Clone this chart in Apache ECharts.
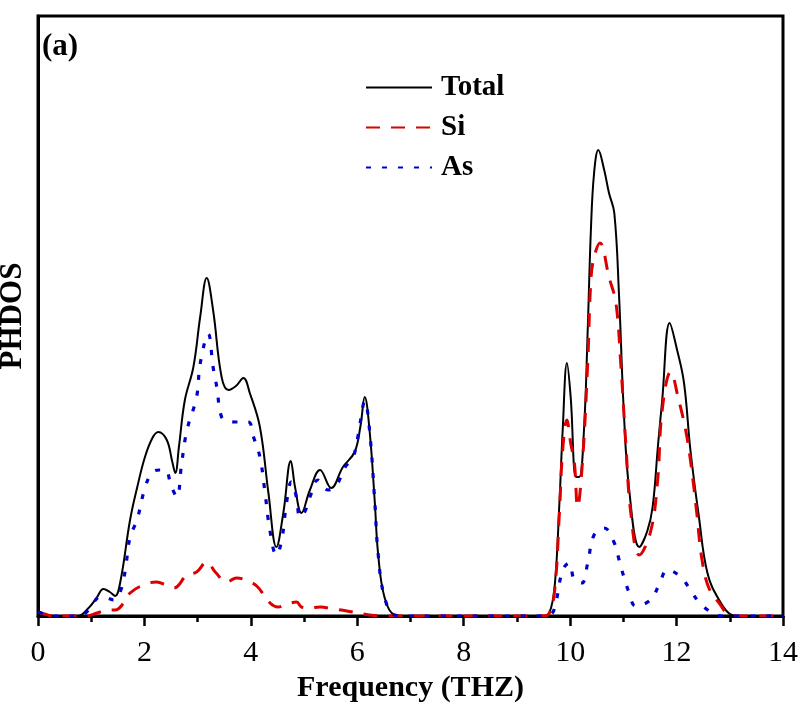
<!DOCTYPE html>
<html>
<head>
<meta charset="utf-8">
<script src="https://cdn.jsdelivr.net/npm/echarts@6/dist/echarts.min.js"></script>
<style>
html,body{margin:0;padding:0;background:#fff;}
#chart{width:808px;height:708px;}
</style>
</head>
<body>
<div id="chart"></div>
<script>
const xTicks = [0, 2, 4, 6, 8, 10, 12, 14];
const seriesNames = ['Total', 'Si', 'As'];

const totalPoints = [[0,5],[0.12,2],[0.3,0],[0.75,0],[0.95,8],[1.1,18],[1.23,27],[1.35,24],[1.45,20],[1.55,35],[1.73,96],[1.87,130],[2.01,159],[2.15,178],[2.26,184],[2.42,176],[2.52,155],[2.58,143],[2.65,170],[2.76,216],[2.92,249],[3.05,300],[3.17,338],[3.29,306],[3.45,239],[3.58,226],[3.72,230],[3.86,238],[3.98,223],[4.17,189],[4.33,123],[4.48,69],[4.61,103],[4.75,155],[4.83,129],[4.95,103],[5.11,126],[5.30,146],[5.51,128],[5.73,149],[5.95,164],[6.06,190],[6.14,219],[6.23,186],[6.33,113],[6.39,63],[6.51,19],[6.70,1],[6.9,0],[9.5,0],[9.61,3],[9.71,30],[9.80,115],[9.86,186],[9.94,253],[10.01,219],[10.11,139],[10.17,139],[10.26,186],[10.33,286],[10.39,386],[10.45,443],[10.53,466],[10.64,446],[10.73,423],[10.83,403],[10.92,319],[11.01,203],[11.11,126],[11.30,69],[11.45,85],[11.55,109],[11.65,170],[11.73,216],[11.87,293],[12.01,266],[12.14,233],[12.26,166],[12.42,99],[12.58,43],[12.80,16],[13.04,1],[13.2,0],[14,0]];

const siPoints = [[0,4],[0.12,2],[0.3,0],[0.9,0],[1.11,3],[1.30,6],[1.45,6],[1.61,13],[1.73,23],[1.98,31],[2.23,34],[2.40,31],[2.55,28],[2.80,41],[2.98,44],[3.17,54],[3.33,44],[3.55,34],[3.73,38],[3.9,36],[4.11,30],[4.36,13],[4.51,9],[4.68,12],[4.86,14],[4.95,9],[5.1,8],[5.30,9],[5.55,7],[5.80,5],[6.23,1],[6.5,0],[9.5,0],[9.61,3],[9.71,26],[9.80,105],[9.86,166],[9.94,196],[10.01,173],[10.08,153],[10.14,109],[10.23,153],[10.33,253],[10.39,336],[10.45,359],[10.56,373],[10.73,339],[10.86,313],[10.95,253],[11.05,169],[11.14,103],[11.30,61],[11.51,84],[11.64,133],[11.73,206],[11.89,244],[12.04,216],[12.17,186],[12.26,156],[12.38,103],[12.47,59],[12.60,29],[12.80,13],[13.0,1],[13.2,0],[14,0]];

const asPoints = [[0,4],[0.12,2],[0.3,0],[0.8,0],[0.95,6],[1.17,19],[1.30,18],[1.42,16],[1.55,25],[1.64,46],[1.73,79],[1.86,96],[2.01,128],[2.14,143],[2.28,146],[2.39,146],[2.51,129],[2.61,119],[2.70,153],[2.80,186],[2.98,219],[3.05,253],[3.20,282],[3.29,249],[3.36,229],[3.45,199],[3.58,195],[3.70,194],[3.95,194],[4.05,179],[4.17,159],[4.26,126],[4.36,85],[4.48,61],[4.58,76],[4.67,113],[4.76,134],[4.86,118],[4.92,99],[5.01,104],[5.11,119],[5.26,136],[5.45,126],[5.61,131],[5.76,148],[5.92,159],[6.01,179],[6.11,211],[6.14,215],[6.23,186],[6.33,113],[6.39,63],[6.51,19],[6.70,1],[6.9,0],[9.5,0],[9.65,2],[9.73,13],[9.86,46],[9.98,53],[10.08,36],[10.22,33],[10.33,53],[10.45,81],[10.64,88],[10.83,73],[10.92,56],[11.01,39],[11.11,23],[11.23,10],[11.51,16],[11.67,31],[11.83,46],[12.08,39],[12.26,26],[12.42,14],[12.64,4],[12.85,0],[14,0]];

const serif = 'Liberation Serif, Times New Roman, serif';
const chart = echarts.init(document.getElementById('chart'), null, {renderer: 'canvas'});
chart.setOption({
  animation: false,
  backgroundColor: '#fff',
  grid: {left: 38, right: 25, top: 16, bottom: 92, show: true, borderColor: '#000', borderWidth: 3,
    backgroundColor: 'transparent', containLabel: false, outerBoundsMode: 'none'},
  legend: {
    orient: 'vertical', left: 360, top: 68, itemWidth: 66, itemHeight: 14, itemGap: 11,
    data: seriesNames,
    itemStyle: {opacity: 0},
    textStyle: {fontFamily: serif, fontWeight: 'bold', fontSize: 29, color: '#000', padding: [0,0,0,4]}
  },
  graphic: [{type: 'text', left: 42, top: 31, style: {text: '(a)', font: 'bold 31px ' + serif, fill: '#000'}}],
  xAxis: {
    type: 'value', min: 0, max: 14, interval: 2,
    name: 'Frequency (THZ)', nameLocation: 'middle', nameGap: 54,
    nameTextStyle: {fontFamily: serif, fontWeight: 'bold', fontSize: 30, color: '#000'},
    axisLine: {show: true, lineStyle: {color: '#000', width: 3}},
    axisTick: {show: true, inside: false, length: 10, lineStyle: {color: '#000', width: 2.5}},
    minorTick: {show: true, splitNumber: 2, length: 6, lineStyle: {color: '#000', width: 2.5}},
    splitLine: {show: false},
    axisLabel: {fontFamily: serif, fontSize: 30, color: '#000', margin: 22,
      formatter: v => xTicks.includes(v) ? String(v) : ''}
  },
  yAxis: {
    type: 'value', min: 0, max: 600,
    name: 'PHDOS', nameLocation: 'middle', nameGap: 10,
    nameTextStyle: {fontFamily: serif, fontWeight: 'bold', fontSize: 31, color: '#000'},
    axisLine: {show: true, lineStyle: {color: '#000', width: 3}},
    axisTick: {show: false}, axisLabel: {show: false}, splitLine: {show: false}
  },
  series: [
    {name: 'Total', type: 'line', data: totalPoints, symbol: 'none', smooth: 0.4,
     lineStyle: {color: '#000', width: 2}, itemStyle: {color: '#000'}, z: 2},
    {name: 'Si', type: 'line', data: siPoints, symbol: 'none', smooth: 0.4,
     lineStyle: {color: '#dd0000', width: 3, type: [14, 11]}, itemStyle: {color: '#dd0000'}, z: 3},
    {name: 'As', type: 'line', data: asPoints, symbol: 'none', smooth: 0.4,
     lineStyle: {color: '#0000cc', width: 3.2, type: [5, 11]}, itemStyle: {color: '#0000cc'}, z: 4}
  ]
});
</script>
</body>
</html>
